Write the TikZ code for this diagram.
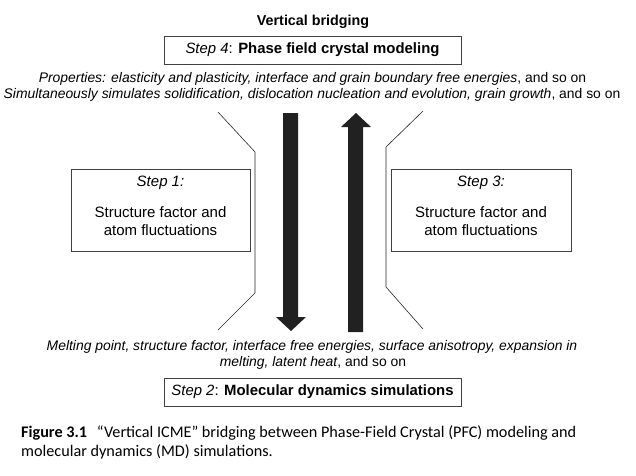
\documentclass[tikz,border=0pt]{standalone}
\usepackage{fontspec}
\setmainfont{Liberation Sans}
\newfontfamily\capfont{Carlito}
\begin{document}
\begin{tikzpicture}[x=1pt,y=-1pt,
  box/.style={draw=black!75, line width=0.9pt, inner sep=0pt},
  txt/.style={inner sep=0pt, font=\fontsize{13.9}{16}\selectfont},
  intxt/.style={inner sep=0pt, font=\fontsize{15}{18}\selectfont},
  brk/.style={draw=black!85, line width=0.6pt},
  bigarrow/.style={fill=black!87, draw=none}]
\useasboundingbox (0,0) rectangle (636,475);
% title
\node[txt, font=\bfseries\fontsize{14.3}{16}\selectfont] (title) at (313,22) {Vertical bridging};
% step 4
\node[box, minimum width=297pt, minimum height=28pt] (s4) at (312.5,50)
  {\fontsize{14.9}{16}\selectfont\itshape Step 4\upshape: \bfseries Phase field crystal modeling};
\node[txt] (prop) at (312.5,79) {\itshape Properties: elasticity and plasticity, interface and grain boundary free energies\upshape, and so on};
\node[txt] (simu) at (312,95) {\itshape Simultaneously simulates solidification, dislocation nucleation and evolution, grain growth\upshape, and so on};
% step 1 and 3
\node[box, minimum width=179pt, minimum height=82pt] (s1) at (160.5,210) {};
\node[intxt] (s1a) at (160.5,183) {\itshape Step 1:};
\node[intxt, align=center] (s1b) at (160.5,221) {Structure factor and\\atom fluctuations};
\node[box, minimum width=180pt, minimum height=82pt] (s3) at (481,210) {};
\node[intxt] (s3a) at (481,183) {\itshape Step 3:};
\node[intxt, align=center] (s3b) at (481,221) {Structure factor and\\atom fluctuations};
% brackets
\coordinate (l1) at (218,112); \coordinate (l2) at (255,152);
\coordinate (l3) at (255,293); \coordinate (l4) at (218,330);
\draw[brk] (l1) -- (l2) -- (l3) -- (l4);
\coordinate (r1) at (423,111); \coordinate (r2) at (386,147);
\coordinate (r3) at (386,287); \coordinate (r4) at (423,329);
\draw[brk] (r1) -- (r2) -- (r3) -- (r4);
% arrows
\coordinate (dtip) at (291,331);
\coordinate (utip) at (356,113);
\fill[bigarrow] (283,113) -- (298,113) -- (298,317) -- (306,317) -- (dtip) -- (276,317) -- (283,317) -- cycle;
\fill[bigarrow] (348,332) -- (363,332) -- (363,127) -- (371,127) -- (utip) -- (341,127) -- (348,127) -- cycle;
% bottom text
\node[txt] (melt1) at (312,347) {\itshape Melting point, structure factor, interface free energies, surface anisotropy, expansion in};
\node[txt] (melt2) at (313,363) {\itshape melting, latent heat\upshape, and so on};
\node[box, minimum width=297pt, minimum height=28pt] (s2) at (312.5,392)
  {\fontsize{14.9}{17}\selectfont\itshape Step 2\upshape: \bfseries Molecular dynamics simulations};
% caption
\node[anchor=west, inner sep=0pt, align=left, font=\capfont\fontsize{16.2}{19}\selectfont] (cap) at (21,442.5)
  {\textbf{Figure 3.1}\hspace{0.6em}“Vertical ICME” bridging between Phase-Field Crystal (PFC) modeling and\\molecular dynamics (MD) simulations.};
\end{tikzpicture}
\end{document}
